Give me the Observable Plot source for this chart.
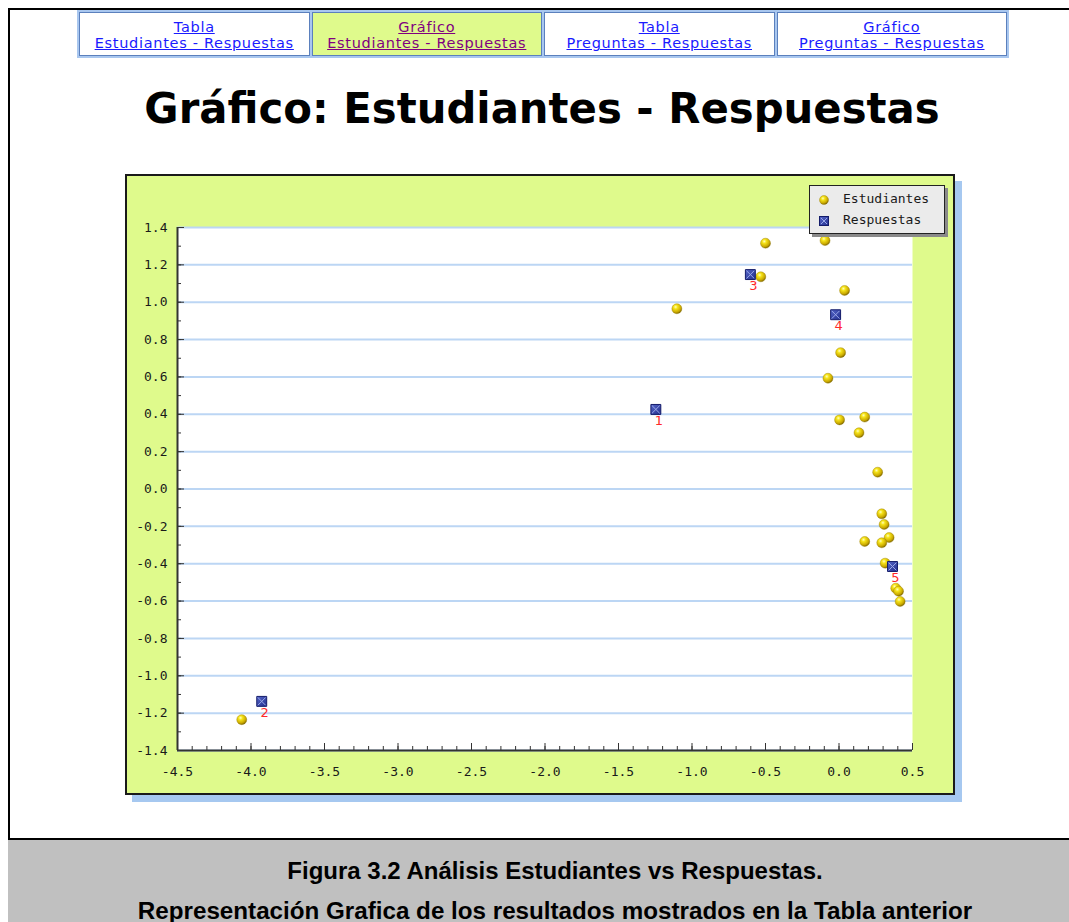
<!DOCTYPE html>
<html><head><meta charset="utf-8">
<script src="https://cdn.jsdelivr.net/npm/d3@7"></script>
<script src="https://cdn.jsdelivr.net/npm/@observablehq/plot@0.6"></script>
<style>
html,body{margin:0;padding:0;}
body{width:1069px;height:922px;position:relative;overflow:hidden;background:#fff;font-family:"DejaVu Sans",sans-serif;}
.abs{position:absolute;}
#frameTop{left:8px;top:8px;width:1061px;height:2px;background:#000;}
#frameLeft{left:8px;top:8px;width:2px;height:914px;background:#000;}
#nav{left:77px;top:10px;width:932px;height:48px;box-sizing:border-box;background:#a9c7ef;padding:2px;display:flex;gap:2px;}
#nav .cell{flex:1;box-sizing:border-box;border:1px solid #5b80bd;background:#fff;text-align:center;font-size:14.5px;letter-spacing:0.7px;line-height:16px;padding-top:6px;white-space:nowrap;}
#nav .cell.active{background:#dffa8c;}
#nav a{color:#1a1aff;text-decoration:underline;}
#nav .active a{color:#800080;}
#title{left:42px;top:88px;width:1000px;text-align:center;font-family:"DejaVu Sans",sans-serif;font-weight:bold;font-size:41.8px;line-height:41px;color:#000;white-space:nowrap;}
#panel{left:125px;top:174px;width:830px;height:621px;box-sizing:border-box;border:2px solid #1a1a1a;background:#dffa8c;box-shadow:7px 7px 0 #a6c8f0;}
#panel svg{position:absolute;left:0;top:0;}
#legend{left:682px;top:9px;width:136px;height:49px;box-sizing:border-box;border:1px solid #222;background:#ebebeb;box-shadow:3px 3px 0 #8a8a8a;font-family:"DejaVu Sans Mono",monospace;font-size:13px;color:#1a1a1a;}
#legend .row{position:absolute;left:9px;height:16px;line-height:16px;white-space:nowrap;}
#legend .row svg{position:static;vertical-align:middle;margin-right:14px;}
#caption{left:8px;top:838px;width:1061px;height:84px;box-sizing:border-box;border-top:2px solid #000;background:#c0c0c0;}
.capline{left:55px;width:1000px;text-align:center;font-family:"Liberation Sans",Arial,sans-serif;font-weight:bold;font-size:24px;line-height:24px;color:#000;white-space:nowrap;}
</style>
</head><body>
<div id="frameTop" class="abs"></div>
<div id="frameLeft" class="abs"></div>
<div id="nav" class="abs">
  <div class="cell"><a href="#">Tabla</a><br><a href="#">Estudiantes - Respuestas</a></div>
  <div class="cell active"><a href="#">Gráfico</a><br><a href="#">Estudiantes - Respuestas</a></div>
  <div class="cell"><a href="#">Tabla</a><br><a href="#">Preguntas - Respuestas</a></div>
  <div class="cell"><a href="#">Gráfico</a><br><a href="#">Preguntas - Respuestas</a></div>
</div>
<div id="title" class="abs">Gráfico: Estudiantes - Respuestas</div>
<div id="panel" class="abs"></div>
<div id="caption" class="abs"></div>
<div class="abs capline" style="top:859px">Figura 3.2 Análisis Estudiantes vs Respuestas.</div>
<div class="abs capline" style="top:899px;font-size:24.2px">Representación Grafica de los resultados mostrados en la Tabla anterior</div>
<script>
// ---- data ----
const estudiantesX = [-0.500, -0.095, -0.532, 0.038, -1.103, 0.011, -0.075, 0.175, 0.004, 0.136, 0.263, 0.291, 0.307, 0.341, 0.175, 0.291, 0.314, 0.386, 0.405, 0.416, -4.063];
const estudiantesY = [1.316, 1.330, 1.136, 1.063, 0.965, 0.730, 0.593, 0.385, 0.370, 0.301, 0.090, -0.133, -0.190, -0.260, -0.281, -0.288, -0.397, -0.531, -0.547, -0.602, -1.235];
const respuestasLabel = ["1", "2", "3", "4", "5"];
const respuestasX = [-1.246, -3.927, -0.603, -0.023, 0.364];
const respuestasY = [0.426, -1.137, 1.148, 0.933, -0.415];
const xTicks = [-4.5, -4.0, -3.5, -3.0, -2.5, -2.0, -1.5, -1.0, -0.5, 0.0, 0.5];
const xTickLabels = ["-4.5", "-4.0", "-3.5", "-3.0", "-2.5", "-2.0", "-1.5", "-1.0", "-0.5", "0.0", "0.5"];
const yTicks = [-1.4, -1.2, -1.0, -0.8, -0.6, -0.4, -0.2, 0.0, 0.2, 0.4, 0.6, 0.8, 1.0, 1.2, 1.4];
const yTickLabels = ["-1.4", "-1.2", "-1.0", "-0.8", "-0.6", "-0.4", "-0.2", "0.0", "0.2", "0.4", "0.6", "0.8", "1.0", "1.2", "1.4"];
const seriesNames = ["Estudiantes", "Respuestas"];

// ---- tables ----
const estudiantes = estudiantesX.map((x, i) => ({x, y: estudiantesY[i]}));
const respuestas = respuestasX.map((x, i) => ({x, y: respuestasY[i], label: respuestasLabel[i]}));
const xMinor = d3.range(0, 51).map(i => -4.5 + i * 0.1);
const yMinor = d3.range(0, 29).map(i => -1.4 + i * 0.1);
const xLab = new Map(xTicks.map((t, i) => [t, xTickLabels[i]]));
const yLab = new Map(yTicks.map((t, i) => [t, yTickLabels[i]]));

const W = 826, H = 617, mL = 50, mT = 51, mR = 41, mB = 43;
const innerW = W - mL - mR, innerH = H - mT - mB;
const axisColor = "#333";

const chart = Plot.plot({
  width: W, height: H,
  marginLeft: mL, marginTop: mT, marginRight: mR, marginBottom: mB,
  style: {background: "transparent", fontFamily: "DejaVu Sans Mono, monospace", fontSize: "13px", color: "#1a1a1a", overflow: "visible"},
  x: {domain: [-4.5, 0.5]},
  y: {domain: [-1.4, 1.4]},
  marks: [
    Plot.frame({fill: "white", stroke: null}),
    Plot.ruleY(yTicks, {stroke: "#bcd6f4", strokeWidth: 2}),
    Plot.tickX(xMinor, {insetTop: innerH - 4, stroke: axisColor}),
    Plot.tickX(xTicks, {insetTop: innerH - 7, stroke: axisColor}),
    Plot.tickY(yMinor, {insetRight: innerW - 4, stroke: axisColor}),
    Plot.tickY(yTicks, {insetRight: innerW - 7, stroke: axisColor}),
    Plot.ruleX([-4.5], {stroke: axisColor, strokeWidth: 2}),
    Plot.ruleY([-1.4], {stroke: axisColor, strokeWidth: 2}),
    Plot.axisX({ticks: xTicks, tickSize: 0, tickPadding: 16, label: null, tickFormat: d => xLab.get(d)}),
    Plot.axisY({ticks: yTicks, tickSize: 0, tickPadding: 10, label: null, tickFormat: d => yLab.get(d)}),
    Plot.dot(estudiantes, {x: "x", y: "y", r: 5, fill: "url(#ballGrad)", stroke: "#9a8200", strokeWidth: 0.4}),
    Plot.dot(respuestas, {x: "x", y: "y", symbol: "square", r: 5.6, fill: "url(#sqGrad)", stroke: "#141c6a", strokeWidth: 1}),
    Plot.dot(respuestas, {x: "x", y: "y", symbol: "times", r: 3.6, stroke: "#9aa8e8", strokeWidth: 1}),
    Plot.text(respuestas, {x: "x", y: "y", text: "label", dx: 3, dy: 11, fill: "#ff2a2a", fontFamily: "DejaVu Sans, sans-serif", fontSize: 13})
  ]
});

const defs = `
<radialGradient id="ballGrad" cx="38%" cy="32%" r="70%">
  <stop offset="0%" stop-color="#ffffc0"/>
  <stop offset="28%" stop-color="#f6e41a"/>
  <stop offset="75%" stop-color="#c9a800"/>
  <stop offset="100%" stop-color="#7a6200"/>
</radialGradient>
<linearGradient id="sqGrad" x1="0" y1="0" x2="1" y2="1">
  <stop offset="0%" stop-color="#5566c8"/>
  <stop offset="100%" stop-color="#232f8e"/>
</linearGradient>`;
d3.select(chart).insert("defs", ":first-child").html(defs);

const panel = document.getElementById("panel");
panel.appendChild(chart);

// legend
const legend = document.createElement("div");
legend.id = "legend"; legend.className = "abs";
const ballIcon = `<svg width="10" height="10" viewBox="-5 -5 10 10"><circle r="4.5" fill="url(#ballGrad)" stroke="#9a8200" stroke-width="0.4"/></svg>`;
const sqIcon = `<svg width="10" height="10" viewBox="-5 -5 10 10"><rect x="-4.5" y="-4.5" width="9" height="9" fill="url(#sqGrad)" stroke="#141c6a"/><path d="M-3,-3L3,3M3,-3L-3,3" stroke="#9aa8e8"/></svg>`;
legend.innerHTML = `<div class="row" style="top:5px">${ballIcon}${seriesNames[0]}</div><div class="row" style="top:26px">${sqIcon}${seriesNames[1]}</div>`;
panel.appendChild(legend);
</script>
</body></html>
